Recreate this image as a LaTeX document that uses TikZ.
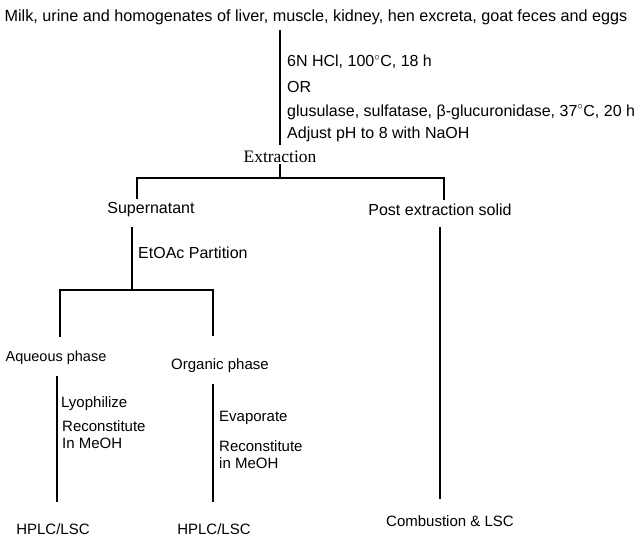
\documentclass[tikz,border=0pt]{standalone}
\usepackage{fontspec}
\setmainfont{Liberation Sans}
\newfontfamily\timesfont{Liberation Serif}
\usepackage{tikz}
\usetikzlibrary{positioning}

\tikzset{
  lbl/.style={inner sep=1pt, font=\fontsize{16}{18}\selectfont},
  small/.style={inner sep=1pt, font=\fontsize{15}{17}\selectfont},
  note/.style={lbl, anchor=west, align=left},
  smallnote/.style={small, anchor=west, align=left},
  link/.style={draw=black, line width=1.3pt},
  fork/.style={draw=black, line width=2pt}
}

\begin{document}
\begin{tikzpicture}[x=1pt, y=-1pt]
    \useasboundingbox (0,0) rectangle (640,538);

    % samples and hydrolysis
    \node[lbl, font=\fontsize{16.2}{18}\selectfont] (top) at (316,17) {Milk, urine and homogenates of liver, muscle, kidney, hen excreta, goat feces and eggs};
    \node[note] (hcl) at (286,62) {6N HCl, 100$^{\circ}$C, 18 h};
    \node[note] (or) at (286,87) {OR};
    \node[note] (enz) at (286,112) {glusulase, sulfatase, β-glucuronidase, 37$^{\circ}$C, 20 h};
    \node[note] (ph) at (286,134) {Adjust pH to 8 with NaOH};
    \node[lbl, font=\fontsize{17.5}{19}\timesfont] (extr) at (280,157) {Extraction};

    % first split
    \node[lbl] (sup) at (151,210) {Supernatant};
    \node[lbl] (pes) at (440,210) {Post extraction solid};
    \node[note] (etoac) at (137,253) {EtOAc Partition};
    \coordinate (split1) at (280,178);
    \coordinate (split2) at (132,290);

    % phases
    \node[small, font=\fontsize{14.5}{17}\selectfont] (aq) at (56,358) {Aqueous phase};
    \node[small] (org) at (220,366) {Organic phase};
    \node[smallnote] (lyo) at (60,404) {Lyophilize};
    \node[smallnote] (rec1) at (61,435) {Reconstitute\\In MeOH};
    \node[smallnote] (evap) at (218,418) {Evaporate};
    \node[smallnote] (rec2) at (218,455) {Reconstitute\\in MeOH};
    \node[small] (hplc1) at (53,529) {HPLC/LSC};
    \node[small] (hplc2) at (214,529) {HPLC/LSC};
    \node[small] (comb) at (450,521) {Combustion \& LSC};

    % connectors
    \draw[link, shorten <=4pt, shorten >=5pt] (extr |- top.south) -- (extr.north);
    \draw[link] (extr.south) -- (split1);
    \draw[fork, shorten <=3pt, shorten >=3pt] ([xshift=-14pt]sup.north) |- (split1) -| ([xshift=4pt]pes.north);
    \draw[link, shorten <=9pt] ([xshift=-19pt]sup.south) -- (split2);
    \draw[fork, shorten <=13pt, shorten >=22pt] ([xshift=4pt]aq.north) |- (split2) -| ([xshift=-7pt]org.north);
    \draw[link, shorten <=10pt, shorten >=20pt] ([xshift=1pt]aq.south) -- ([xshift=1pt]aq.south |- hplc1.north);
    \draw[link, shorten <=10pt, shorten >=20pt] ([xshift=-7pt]org.south) -- ([xshift=-7pt]org.south |- hplc2.north);
    \draw[link, shorten <=10pt, shorten >=15pt] (pes.south) -- (pes.south |- comb.north);
\end{tikzpicture}
\end{document}
